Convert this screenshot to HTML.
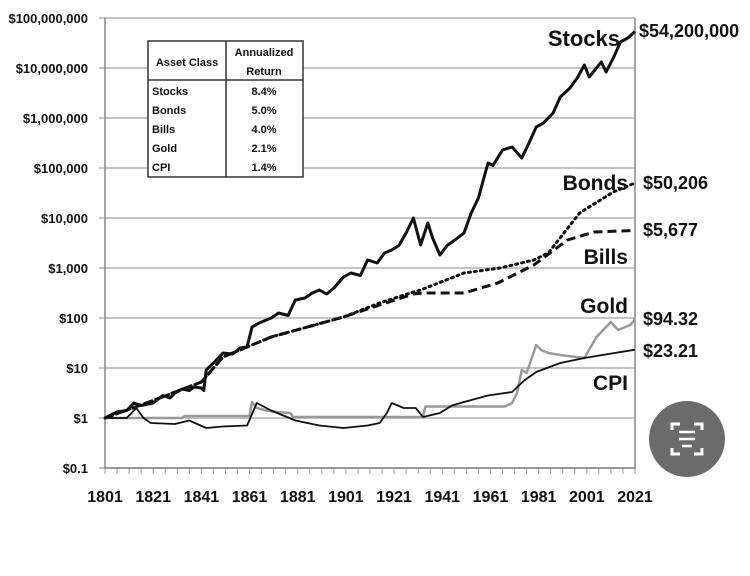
<!DOCTYPE html>
<html><head><meta charset="utf-8"><style>
body{margin:0;background:#fff;width:750px;height:576px;overflow:hidden}
svg{display:block}
text{font-family:"Liberation Sans",sans-serif;font-weight:bold;fill:#111}
</style></head><body>
<svg id="chart" width="750" height="576"></svg>
<script>
const tickVals=[-1,0,1,2,3,4,5,6,7,8];
const tickLabels=["$0.1","$1","$10","$100","$1,000","$10,000","$100,000","$1,000,000","$10,000,000","$100,000,000"];
const xLabels=[1801,1821,1841,1861,1881,1901,1921,1941,1961,1981,2001,2021];
const stockYears=[1801,1803,1806,1810,1813,1816,1821,1825,1828,1830,1833,1836,1838,1841,1842,1843,1846,1850,1854,1857,1860,1862,1865,1870,1873,1877,1880,1884,1887,1890,1893,1896,1900,1903,1907,1910,1914,1917,1920,1923,1926,1929,1932,1935,1937,1940,1943,1946,1950,1953,1956,1960,1962,1966,1970,1974,1977,1980,1983,1987,1990,1994,1997,2000,2002,2005,2007,2009,2012,2015,2018,2021];
const stockVals=[0,0.05,0.12,0.15,0.3,0.25,0.3,0.45,0.4,0.5,0.58,0.55,0.62,0.6,0.55,0.96,1.1,1.3,1.28,1.4,1.42,1.82,1.9,2.0,2.1,2.05,2.36,2.4,2.5,2.56,2.48,2.6,2.82,2.9,2.85,3.16,3.1,3.3,3.36,3.45,3.7,4.0,3.46,3.9,3.6,3.26,3.45,3.55,3.7,4.1,4.4,5.1,5.05,5.36,5.42,5.2,5.5,5.82,5.9,6.1,6.42,6.6,6.8,7.06,6.82,7.0,7.12,6.92,7.2,7.52,7.6,7.73];
const bondYears=[1801,1821,1841,1850,1870,1900,1915,1929,1932,1950,1965,1979,1985,1998,2012,2021];
const bondVals=[0,0.35,0.72,1.22,1.62,2.02,2.3,2.52,2.56,2.9,3.0,3.16,3.3,4.1,4.52,4.70];
const billYears=[1801,1821,1841,1850,1870,1900,1915,1929,1933,1950,1964,1979,1993,2004,2021];
const billVals=[0,0.35,0.72,1.22,1.62,2.02,2.26,2.48,2.5,2.5,2.7,3.06,3.56,3.72,3.75];
const goldYears=[1801,1833,1834,1861,1862,1864,1868,1872,1878,1879,1933,1934,1967,1970,1972,1974,1976,1980,1982,1985,1990,2000,2005,2011,2014,2019,2021];
const goldVals=[0,0,0.04,0.04,0.32,0.2,0.15,0.12,0.1,0.02,0.02,0.23,0.23,0.3,0.5,0.96,0.9,1.46,1.36,1.3,1.26,1.2,1.62,1.92,1.76,1.86,1.97];
const cpiYears=[1801,1810,1814,1817,1820,1830,1836,1843,1850,1860,1864,1870,1880,1890,1900,1910,1915,1918,1920,1925,1930,1933,1940,1945,1950,1960,1970,1975,1980,1990,2000,2010,2021];
const cpiVals=[0,0,0.2,0,-0.1,-0.12,-0.05,-0.2,-0.17,-0.15,0.3,0.15,-0.05,-0.15,-0.2,-0.15,-0.1,0.1,0.3,0.2,0.2,0.02,0.1,0.25,0.32,0.45,0.52,0.75,0.92,1.1,1.2,1.28,1.366];
const L=105,R=635,T=18,B=468;
const xs=y=>L+(y-1801)*(R-L)/220;
const ys=v=>418-50*v;
const svg=document.getElementById('chart');
const NS='http://www.w3.org/2000/svg';
function mk(tag,attrs,parent){const e=document.createElementNS(NS,tag);for(const k in attrs)e.setAttribute(k,attrs[k]);(parent||svg).appendChild(e);return e;}
tickVals.forEach((v,i)=>{
  const g=mk('line',{x1:99,x2:R,y1:ys(v),y2:ys(v),stroke:'#b0b0b0','stroke-width':1.5});
  
  
  const t=mk('text',{x:88,y:ys(v)+5,'text-anchor':'end','font-size':13});
  t.textContent=tickLabels[i];
  
  
});
for(let y=1801;y<=2021;y+=5){const t=mk('line',{x1:xs(y),x2:xs(y),y1:B,y2:B+6,stroke:'#999','stroke-width':1});}
xLabels.forEach(y=>{const t=mk('text',{x:xs(y),y:502,'text-anchor':'middle','font-size':16});t.textContent=y;});
const ax=mk('path',{d:`M${L},${T}V${B}H${R}V${T}`,fill:'none',stroke:'#888','stroke-width':1.5});


function series(yrs,vals,attrs,name){const d=yrs.map((y,i)=>(i?'L':'M')+xs(y).toFixed(1)+','+ys(vals[i]).toFixed(1)).join('');const p=mk('path',Object.assign({d:d,fill:'none','stroke-linejoin':'round'},attrs));}
series(goldYears,goldVals,{stroke:'#999','stroke-width':2.5},'gold-line');
series(cpiYears,cpiVals,{stroke:'#111','stroke-width':1.8},'cpi-line');
series(billYears,billVals,{stroke:'#111','stroke-width':3,'stroke-dasharray':'9,5'},'bills-line');
series(bondYears,bondVals,{stroke:'#111','stroke-width':3,'stroke-dasharray':'2,4','stroke-linecap':'round'},'bonds-line');
series(stockYears,stockVals,{stroke:'#111','stroke-width':3},'stocks-line');
</script>
<svg style="position:absolute;left:0;top:0" width="750" height="576">
<g>
<rect x="148" y="41" width="155" height="136" fill="#fff" stroke="#333" stroke-width="1.5"/>
<line x1="226" y1="41" x2="226" y2="177" stroke="#333" stroke-width="1.5"/>
<line x1="148" y1="80" x2="303" y2="80" stroke="#333" stroke-width="1.5"/>
<text x="187" y="66" font-size="11" text-anchor="middle">Asset Class</text>
<text x="264" y="56" font-size="11" text-anchor="middle">Annualized</text>
<text x="264" y="75" font-size="11" text-anchor="middle">Return</text>
<text x="152" y="95" font-size="11">Stocks</text><text x="264" y="95" font-size="11" text-anchor="middle">8.4%</text>
<text x="152" y="114" font-size="11">Bonds</text><text x="264" y="114" font-size="11" text-anchor="middle">5.0%</text>
<text x="152" y="133" font-size="11">Bills</text><text x="264" y="133" font-size="11" text-anchor="middle">4.0%</text>
<text x="152" y="152" font-size="11">Gold</text><text x="264" y="152" font-size="11" text-anchor="middle">2.1%</text>
<text x="152" y="171" font-size="11">CPI</text><text x="264" y="171" font-size="11" text-anchor="middle">1.4%</text>
</g>
<text x="620" y="46" font-size="22" text-anchor="end">Stocks</text>
<text x="639" y="37" font-size="18">$54,200,000</text>
<text x="628" y="190" font-size="21" text-anchor="end">Bonds</text>
<text x="643" y="189" font-size="18">$50,206</text>
<text x="643" y="236" font-size="18">$5,677</text>
<text x="628" y="264" font-size="21" text-anchor="end">Bills</text>
<text x="628" y="313" font-size="21" text-anchor="end">Gold</text>
<text x="643" y="325" font-size="18">$94.32</text>
<text x="643" y="357" font-size="18">$23.21</text>
<text x="628" y="390" font-size="21" text-anchor="end">CPI</text>
<g>
<circle cx="687" cy="439" r="38" fill="#6b6b6b"/>
<path d="M672,430v-6h8M702,430v-6h-8M672,448v6h8M702,448v6h-8" fill="none" stroke="#fff" stroke-width="3"/>
<path d="M679,432h16M679,439h16M682,446h10" stroke="#fff" stroke-width="2.5"/>
</g>
</svg>
</body></html>
